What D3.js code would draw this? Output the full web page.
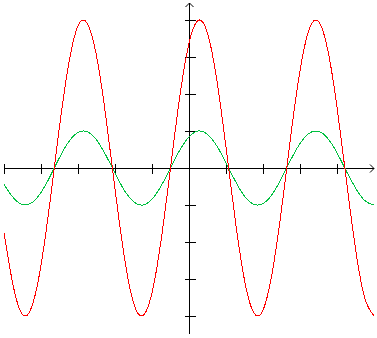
<!DOCTYPE html>
<html>
<head>
<meta charset="utf-8">
<script src="https://cdn.jsdelivr.net/npm/d3@7"></script>
<style>
  body { margin: 0; background: #fff; }
  svg { display: block; }
</style>
</head>
<body>
<div id="chart"></div>
<script>
// x positions (axis units) the curves were read at
var xs = [-5, -4.75, -4.5, -4.25, -4, -3.75, -3.5, -3.25, -3, -2.75, -2.5, -2.25, -2, -1.75, -1.5, -1.25, -1, -0.75, -0.5, -0.25,
  0, 0.25, 0.5, 0.75, 1, 1.25, 1.5, 1.75, 2, 2.25, 2.5, 2.75, 3, 3.25, 3.5, 3.75, 4, 4.25, 4.5, 4.75, 5]

// red curve
var redVals = [-1.75, -3.19, -3.96, -3.75, -2.63, -0.86, 1.12, 2.82, 3.84, 3.91, 3.03, 1.40, -0.56, -2.39, -3.64, -3.99, -3.37, -1.92, 0, 1.92,
  3.37, 3.99, 3.64, 2.39, 0.56, -1.40, -3.03, -3.91, -3.84, -2.82, -1.12, 0.86, 2.63, 3.75, 3.96, 3.19, 1.65, -0.30, -2.18, -3.51, -4.0]

// green curve
var greenVals = [-0.45, -0.80, -0.99, -0.94, -0.66, -0.22, 0.28, 0.71, 0.96, 0.98, 0.76, 0.35, -0.14, -0.60, -0.91, -1.0, -0.84, -0.48, 0, 0.48,
  0.84, 1.0, 0.91, 0.60, 0.14, -0.35, -0.76, -0.98, -0.96, -0.71, -0.28, 0.22, 0.66, 0.94, 0.99, 0.80, 0.41, -0.08, -0.54, -0.88, -1.0]

var xTicks = [-5, -4, -3, -2, -1, 1, 2, 3, 4]
var yTicks = [-4, -3, -2, -1, 1, 2, 3, 4]

var width = 377, height = 338

var svg = d3.select("#chart").append("svg")
  .attr("width", width)
  .attr("height", height)

var x = d3.scaleLinear().domain([-5, 5]).range([4, 374])
var y = d3.scaleLinear().domain([-4.5, 4.5]).range([334.5, 1.5])

var x0 = Math.round(x(0)) + 0.5
var y0 = Math.round(y(0)) + 0.5

var axes = svg.append("g")
  .attr("stroke", "#000")
  .attr("fill", "none")
  .attr("shape-rendering", "crispEdges")

// x axis line + arrow
axes.append("line").attr("x1", x(-5)).attr("x2", x(5)).attr("y1", y0).attr("y2", y0)
axes.append("path").attr("d", "M" + (x(5) - 4) + "," + (y0 - 4) + "L" + x(5) + "," + y0 + "L" + (x(5) - 4) + "," + (y0 + 4))
  .attr("shape-rendering", "auto")

// y axis line + arrow
axes.append("line").attr("x1", x0).attr("x2", x0).attr("y1", 3).attr("y2", y(-4.5) - 1)
axes.append("path").attr("d", "M" + (x0 - 4) + ",7L" + x0 + ",3L" + (x0 + 4) + ",7")
  .attr("shape-rendering", "auto")

axes.selectAll(".xt").data(xTicks).enter().append("line")
  .attr("class", "xt")
  .attr("x1", function(d) { return Math.round(x(d)) + 0.5 })
  .attr("x2", function(d) { return Math.round(x(d)) + 0.5 })
  .attr("y1", y0 - 5).attr("y2", y0 + 5)

axes.selectAll(".yt").data(yTicks).enter().append("line")
  .attr("class", "yt")
  .attr("y1", function(d) { return Math.round(y(d)) + 0.5 })
  .attr("y2", function(d) { return Math.round(y(d)) + 0.5 })
  .attr("x1", x0 - 5).attr("x2", x0 + 6)

var line = d3.line()
  .x(function(d) { return x(d[0]) })
  .y(function(d) { return y(d[1]) })
  .curve(d3.curveNatural)

svg.append("path")
  .datum(d3.zip(xs, greenVals))
  .attr("d", line)
  .attr("fill", "none")
  .attr("stroke", "#00c040")
  .attr("stroke-width", 1)
  .attr("shape-rendering", "crispEdges")

svg.append("path")
  .datum(d3.zip(xs, redVals))
  .attr("d", line)
  .attr("fill", "none")
  .attr("stroke", "#ff0000")
  .attr("stroke-width", 1)
  .attr("shape-rendering", "crispEdges")
</script>
</body>
</html>
